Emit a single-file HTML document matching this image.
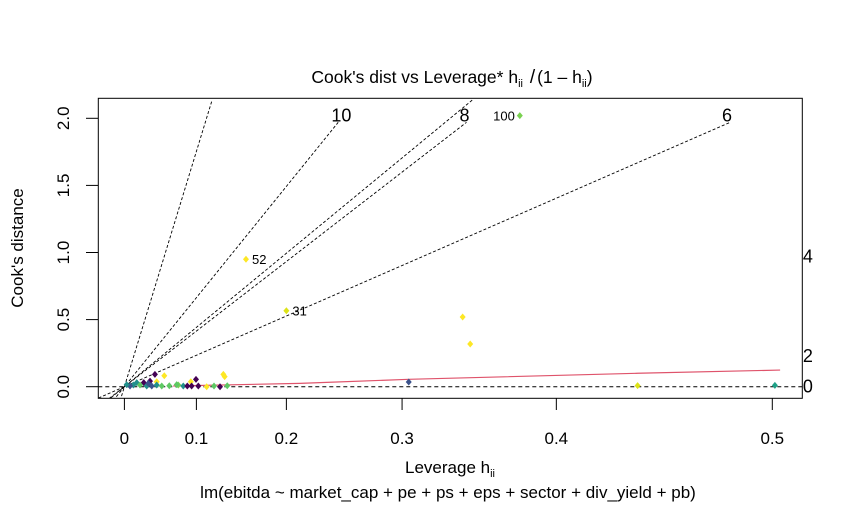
<!DOCTYPE html>
<html><head><meta charset="utf-8"><style>
html,body{margin:0;padding:0;background:#fff;}
svg{display:block;font-family:"Liberation Sans",Arial,sans-serif;}
</style></head><body>
<svg id="chart" width="853" height="521" viewBox="0 0 853 521">
<defs><clipPath id="box"><rect x="98.3" y="98.3" width="704" height="300"/></clipPath></defs>
<rect x="98.3" y="98.3" width="704" height="300" fill="none" stroke="#000" stroke-width="1"/>
<text x="452" y="83" font-size="17.5" text-anchor="middle">Cook's dist vs Leverage* h<tspan font-size="11" dy="4">ii</tspan><tspan dy="-4"> </tspan><tspan font-size="19" dx="2">/</tspan><tspan dx="2">(1 – h</tspan><tspan font-size="11" dy="4">ii</tspan><tspan dy="-4">)</tspan></text>
<text x="450" y="473" font-size="17" text-anchor="middle">Leverage  h<tspan font-size="11" dy="4">ii</tspan></text>
<text x="448" y="498" font-size="17" text-anchor="middle">lm(ebitda ~ market_cap + pe + ps + eps + sector + div_yield + pb)</text>
<text transform="translate(23,248) rotate(-90)" font-size="17" text-anchor="middle">Cook's distance</text>
<g id="axes"></g>
<g id="contours"></g>
<g id="marks"></g>
</svg>
<script>
const xTicks=[0,0.1,0.2,0.3,0.4,0.5];
const xTickLabels=["0","0.1","0.2","0.3","0.4","0.5"];
const yTicks=[0,0.5,1.0,1.5,2.0];
const yTickLabels=["0.0","0.5","1.0","1.5","2.0"];
const leverage=[0.379,0.158,0.200,0.343,0.348,0.305,0.442,0.501,
0.045,0.058,0.1325,0.134,0.0995,0.093,0.029,0.038,0.0475,0.0187,0.0136,0.0235,0.0333,0.0405,0.0475,0.0545,0.0648,0.0768,0.0833,0.0885,0.094,0.1024,0.1127,0.1215,0.1286,0.137,0.0086,0.0747,0.0035,0.0356];
const cooks=[2.02,0.95,0.566,0.519,0.318,0.035,0.008,0.01,
0.092,0.082,0.092,0.075,0.055,0.037,0.030,0.042,0.037,0.03,0.013,0.013,0.005,0.005,0.013,0.005,0.007,0.013,0.005,0.005,0.005,0.005,0.0,0.005,0.0,0.007,0.005,0.015,0.015,0.025];
const groups=["lime","yellow","yellow2","yellow","yellow","blue","yellow2","teal2",
"purple","yellow","yellow","yellow","purple","yellow","purple","purple","yellow","teal","teal","green","teal","blue","teal","green","green","lime","teal","purple","purple","purple","yellow","green","purple","green","blue","green","teal","blue"];
const pointIds=["100","52","31"];
const smoothH=[0.07,0.213,0.305,0.442,0.503];
const smoothD=[0.005,0.025,0.055,0.10,0.124];
const contourEndG=[0.135,0.330,0.538,0.528,0.935];
const contourEndD=[2.13,1.97,2.14,1.97,1.97];
const labelText=["10","8","6","4","2","0"];
const labelG=[0.335,0.525,0.93,1.055,1.055,1.055];
const labelD=[2.02,2.02,2.02,0.97,0.23,0.0];
const palette={purple:"#440154",blue:"#3B528B",teal:"#21908C",teal2:"#1FA187",green:"#5DC863",lime:"#7AD151",yellow:"#FDE725",yellow2:"#DDE318"};
const NS="http://www.w3.org/2000/svg";
function gx(g){return 124.4+647.9*g;}
function xs(h){return gx(h/(1-h));}
function ys(d){return 386.7-134.2*d;}
function mk(tag,attrs,parent){const e=document.createElementNS(NS,tag);for(const k in attrs)e.setAttribute(k,attrs[k]);parent.appendChild(e);return e;}
const axes=document.getElementById('axes');
xTicks.forEach((t,i)=>{
 const x=xs(t);
 const l=mk('line',{x1:x,x2:x,y1:398.3,y2:410,stroke:'#000'},axes);
 
 
 const tx=mk('text',{x:x,y:444,'font-size':17,'text-anchor':'middle'},axes);
 tx.textContent=xTickLabels[i];
 
 
});
yTicks.forEach((t,i)=>{
 const y=ys(t);
 const l=mk('line',{x1:86,x2:98.3,y1:y,y2:y,stroke:'#000'},axes);
 
 
 const tx=mk('text',{'font-size':17,'text-anchor':'middle',transform:`translate(69,${y}) rotate(-90)`},axes);
 tx.textContent=yTickLabels[i];
 
 
});
const cg=document.getElementById('contours');
const zl=mk('line',{x1:98.3,x2:802.3,y1:ys(0),y2:ys(0),stroke:'#000','stroke-dasharray':'4,3'},cg);


const clipG=mk('g',{'clip-path':'url(#box)'},cg);
contourEndG.forEach((g,i)=>{
 const x2=gx(g),y2=ys(contourEndD[i]);
 const ox=gx(0),oy=ys(0);
 const t=(420-oy)/(oy-y2);
 const x1=ox-(x2-ox)*t;
 const l=mk('line',{x1:x1,y1:420,x2:x2,y2:y2,stroke:'#000','stroke-width':0.9,'stroke-dasharray':'3,2'},clipG);
 
 
});
labelText.forEach((lab,i)=>{
 const tx=mk('text',{x:gx(labelG[i]),y:ys(labelD[i])+6,'font-size':18,'text-anchor':'middle'},cg);
 tx.textContent=lab;
 
 
});
const mg=document.getElementById('marks');
const sm=mk('polyline',{points:smoothH.map((h,i)=>xs(h)+','+ys(smoothD[i])).join(' '),fill:'none',stroke:'#DF536B','stroke-width':1.2},mg);


leverage.forEach((h,i)=>{
 const x=xs(h),y=ys(cooks[i]);
 const p=mk('polygon',{points:`${x},${y-3.5} ${x+3},${y} ${x},${y+3.5} ${x-3},${y}`,fill:palette[groups[i]]},mg);
 
 
 if(i<pointIds.length){
  const right=i>0;
  const tx=mk('text',{x:right?x+6:x-5,y:y+5,'font-size':13,'text-anchor':right?'start':'end'},mg);
  tx.textContent=pointIds[i];
  
  
 }
});
</script>
</body></html>
